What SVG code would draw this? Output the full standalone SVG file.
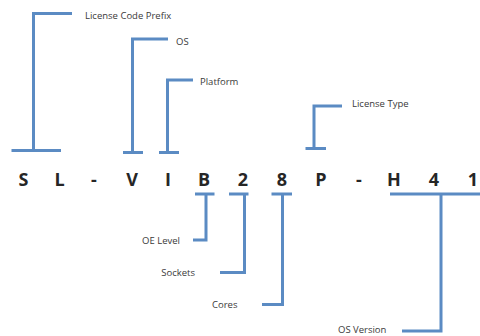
<svg xmlns="http://www.w3.org/2000/svg" width="480" height="336" viewBox="0 0 480 336">
<style>
.br{fill:none;stroke:#5b8bc3;stroke-width:3;stroke-linejoin:miter;stroke-linecap:butt}
.lb{font-family:"Open Sans","Liberation Sans",sans-serif;font-size:9.5px;fill:#3a3a3a}
.ch{font-family:"Open Sans","Liberation Sans",sans-serif;font-size:18px;font-weight:bold;fill:#262626;text-anchor:middle}
</style>
<rect width="480" height="336" fill="#ffffff"/>
<g id="code">
<text class="ch" x="23.5" y="186">S</text>
<text class="ch" x="59.5" y="186">L</text>
<text class="ch" x="94" y="186">-</text>
<text class="ch" x="132" y="186">V</text>
<text class="ch" x="168" y="186">I</text>
<text class="ch" x="204" y="186">B</text>
<text class="ch" x="243" y="186">2</text>
<text class="ch" x="282" y="186">8</text>
<text class="ch" x="321" y="186">P</text>
<text class="ch" x="359" y="186">-</text>
<text class="ch" x="394" y="186">H</text>
<text class="ch" x="434" y="186">4</text>
<text class="ch" x="473" y="186">1</text>
</g>
<g id="connectors">
<path class="br" d="M72 13.5H33.5V150.5M11.5 150.5H61"/>
<path class="br" d="M168 39H132.5V152.5M123 152.5H143"/>
<path class="br" d="M193 80H167.5V152.5M159 152.5H179"/>
<path class="br" d="M342 106H314V148.5M305.5 148.5H326"/>
<path class="br" d="M195 194H214.5M206 194V240H193"/>
<path class="br" d="M229 194H248.5M244.5 194V272.5H220"/>
<path class="br" d="M271.5 194H292M282.5 194V304.5H262"/>
<path class="br" d="M390 194H480M441 194V331H402"/>
</g>
<g id="license-code-prefix"><text class="lb" x="85" y="18.5">License Code Prefix</text></g>
<g id="os"><text class="lb" x="176" y="44.5">OS</text></g>
<g id="platform"><text class="lb" x="200" y="85">Platform</text></g>
<g id="license-type"><text class="lb" x="352" y="106.5">License Type</text></g>
<g id="oe-level"><text class="lb" x="180" y="243.5" text-anchor="end">OE Level</text></g>
<g id="sockets"><text class="lb" x="195" y="275.5" text-anchor="end">Sockets</text></g>
<g id="cores"><text class="lb" x="212" y="307.5">Cores</text></g>
<g id="os-version"><text class="lb" x="338" y="333">OS Version</text></g>
</svg>
